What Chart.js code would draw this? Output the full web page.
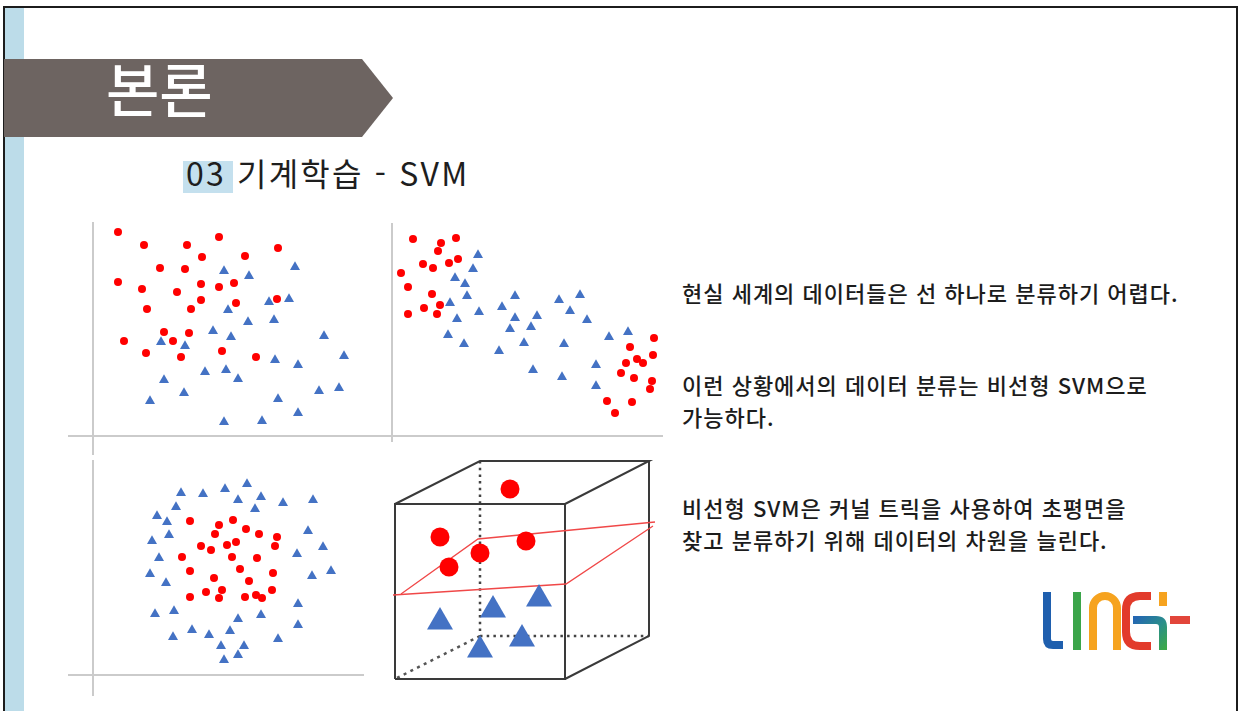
<!DOCTYPE html>
<html lang="ko">
<head>
<meta charset="UTF-8">
<title>본론 - 03 기계학습 SVM</title>
<script src="https://cdn.jsdelivr.net/npm/chart.js"></script>
<style>
  body { margin: 0; width: 1242px; height: 711px; overflow: hidden; background: #fff;
         font-family: "Noto Sans CJK KR", "Noto Sans", sans-serif; position: relative; }
  .abs { position: absolute; }
  .frame { left: 3px; top: 6px; width: 1231px; height: 720px; border: 2px solid #1c1c1c; border-bottom: none; }
  .bar { left: 5px; top: 8px; width: 19px; height: 703px; background: #bcdce9; }
  .title { left: 106px; top: 58px; font-size: 58px; line-height: 1; color: #fff; font-weight: 500; }
  .sub-hl { left: 183px; top: 161px; width: 50px; height: 32px; background: #c4e0ee; }
  .sub { left: 186px; top: 156px; font-size: 32px; line-height: 1; color: #1e1e1e; letter-spacing: 2.2px; }
  .txt { left: 682px; font-size: 22px; line-height: 32px; color: #1c1c1c; letter-spacing: 1px; white-space: nowrap; font-weight: 500; }
  canvas { position: absolute; }
</style>
</head>
<body>
<div class="abs bar"></div>
<div class="abs frame"></div>
<svg class="abs" style="left:0;top:0" width="1242" height="711">
  <defs>
    <linearGradient id="bg" x1="0" y1="0" x2="1" y2="1">
      <stop offset="0" stop-color="#2466b3"/>
      <stop offset="0.55" stop-color="#2a8f8a"/>
      <stop offset="1" stop-color="#3ba84a"/>
    </linearGradient>
  </defs>
  <polygon points="4,59 362,59 393,98 362,137 4,137" fill="#6d6461"/>
  <!-- LINC+ logo -->
  <g fill="none" stroke-width="8" stroke-linejoin="round">
    <path d="M1047,592 V639 Q1047,645 1053,645 H1063" stroke="#1f5fae"/>
    <path d="M1077,592 V650" stroke="#3ba54a"/>
    <path d="M1093,650 V608 A12,12 0 0 1 1117,608 V650" stroke="#f6a31f"/>
    <path d="M1151,596 H1140 Q1126,596 1126,610 V632 Q1126,646 1140,646 H1151" stroke="#e23b2b"/>
    <path d="M1133,620 H1156 Q1163,620 1163,627 V650" stroke="url(#bg)"/>
    <path d="M1163,592 V606" stroke="#f6a31f"/>
    <path d="M1170,620 H1190" stroke="#e2453a"/>
  </g>
</svg>
<div class="abs title">본론</div>
<div class="abs sub-hl"></div>
<div class="abs sub">03 기계학습 - SVM</div>
<div class="abs txt" style="top:276px">현실 세계의 데이터들은 선 하나로 분류하기 어렵다.</div>
<div class="abs txt" style="top:368px">이런 상황에서의 데이터 분류는 비선형 SVM으로<br>가능하다.</div>
<div class="abs txt" style="top:491px">비선형 SVM은 커널 트릭을 사용하여 초평면을<br>찾고 분류하기 위해 데이터의 차원을 늘린다.</div>

<canvas id="p1" width="320" height="240" style="left:60px;top:215px"></canvas>
<canvas id="p2" width="290" height="240" style="left:380px;top:215px"></canvas>
<canvas id="p3" width="320" height="250" style="left:60px;top:450px"></canvas>
<canvas id="p4" width="290" height="250" style="left:380px;top:450px"></canvas>

<script>
// panel 1 - two overlapping classes
const mixRed = [[25,204],[51,191],[94,191],[126,199],[185,188],[109,179],[152,180],[67,168],[92,167],
  [25,154],[49,147],[84,144],[108,152],[126,149],[141,153],[108,136],[143,133],[184,137],[54,127],
  [98,127],[71,104],[96,103],[80,95],[31,95],[53,83],[88,79],[129,85],[163,79]];
const mixBlue = [[131,165],[156,160],[202,169],[176,134],[196,137],[135,126],[155,114],[181,116],
  [120,105],[138,99],[68,94],[92,90],[231,100],[251,80],[182,76],[205,71],[112,64],[133,66],[145,57],
  [71,56],[91,43],[57,35],[185,37],[226,45],[246,48],[205,23],[169,15],[131,14]];

// panel 2 - band with two red clusters
const bandRed = [[21,197],[49,193],[64,198],[46,185],[31,172],[41,168],[57,173],[66,177],[9,163],
  [16,149],[40,142],[48,131],[32,128],[45,122],[16,122],
  [262,98],[238,89],[261,81],[234,73],[245,77],[251,73],[229,63],[242,58],[260,55],[258,47],
  [215,35],[240,34],[223,23]];
const bandBlue = [[86,181],[81,167],[63,158],[73,152],[75,140],[58,133],[87,124],[65,117],[56,101],
  [72,92],[123,140],[110,129],[123,118],[145,120],[118,107],[139,109],[132,93],[107,85],[141,66],
  [167,136],[188,141],[178,125],[195,116],[172,92],[170,59],[217,99],[236,104],[204,71],[204,50]];

// panel 3 - ring around a core
const ringRed = [[97,154],[126,150],[140,155],[122,141],[153,146],[166,141],[184,138],[182,129],
  [143,133],[134,130],[108,129],[118,125],[89,118],[139,118],[164,117],[97,104],[147,106],[180,102],
  [121,97],[156,94],[129,85],[179,85],[113,83],[97,78],[126,77],[152,78],[163,80],[169,77]];
const ringBlue = [[88,182],[110,181],[132,186],[154,191],[145,175],[168,178],[190,172],[220,175],
  [83,168],[162,166],[64,159],[74,153],[76,140],[59,134],[66,117],[57,101],[73,92],[215,144],
  [230,128],[204,121],[219,99],[238,104],[205,71],[205,50],[185,36],[168,60],[145,56],[137,44],
  [62,61],[81,64],[80,38],[99,45],[116,40],[128,29],[151,29],[145,20],[131,15]];

// panel 4 - lifted to 3D, split by a plane
const cubeFront = [[0,0],[0,175],[170,175],[170,0],[0,0]];
const cubeTop = [[0,175],[85,218],[254,218],[170,175]];
const cubeSide = [[254,218],[254,43],[170,0]];
const cubeBackV = [[85,218],[85,43]];
const cubeBackH = [[85,43],[254,43]];
const cubeBackD = [[85,43],[0,0]];
const planeA = [[-2,84],[171,95],[258,153]];
const planeB = [[6,85],[83,140],[260,157]];
const cubeRed = [[115,190],[45,142],[131,138],[85,126],[54,112]];
const cubeBlue = [[45,57],[98,69],[144,80],[127,40],[85,29]];

// axis extents of the 2D panels
const ax1X = [-25, 287], ax1Y = [-19, 214];
const ax2X = [-12, 271], ax2Y = [-6, 213];
const ax3X = [-25, 271], ax3Y = [-21, 215];

const RED = '#ff0000', BLUE = '#4472c4', AXIS = '#cbcbcb', EDGE = '#3a3a3a';
const pts = a => a.map(([x, y]) => ({ x, y }));

function dots(data, color, style, r, order) {
  return { data: pts(data), pointStyle: style, pointRadius: r, pointHoverRadius: r,
    backgroundColor: color, borderWidth: 0, showLine: false, clip: false, order };
}
function line(data, color, width, dash, order) {
  return { data: pts(data), showLine: true, pointRadius: 0, borderColor: color, borderWidth: width,
    borderDash: dash || [], fill: false, tension: 0, clip: false, order };
}
function axes(xr, yr) {
  return [line([[xr[0], 0], [xr[1], 0]], AXIS, 2, null, 9), line([[0, yr[0]], [0, yr[1]]], AXIS, 2, null, 9)];
}
function panel(id, xr, yr, datasets) {
  new Chart(document.getElementById(id), {
    type: 'scatter',
    data: { datasets },
    options: {
      responsive: false, animation: false, events: [],
      layout: { padding: 0, autoPadding: false },
      plugins: { legend: { display: false }, tooltip: { enabled: false } },
      scales: {
        x: { type: 'linear', display: false, min: xr[0], max: xr[1] },
        y: { type: 'linear', display: false, min: yr[0], max: yr[1] }
      }
    }
  });
}

panel('p1', [-33, 287], [-19, 221], [
  ...axes(ax1X, ax1Y),
  dots(mixRed, RED, 'circle', 4, 1), dots(mixBlue, BLUE, 'triangle', 5.8, 2)
]);
panel('p2', [-12, 278], [-19, 221], [
  ...axes(ax2X, ax2Y),
  dots(bandRed, RED, 'circle', 4, 1), dots(bandBlue, BLUE, 'triangle', 5.8, 2)
]);
panel('p3', [-33, 287], [-25, 225], [
  ...axes(ax3X, ax3Y),
  dots(ringRed, RED, 'circle', 4, 1), dots(ringBlue, BLUE, 'triangle', 5.8, 2)
]);
panel('p4', [-15, 275], [-21, 229], [
  line(cubeFront, EDGE, 2, null, 8), line(cubeTop, EDGE, 2, null, 8), line(cubeSide, EDGE, 2, null, 8),
  line(cubeBackV, '#444', 2.5, [2.5, 4.2], 8), line(cubeBackH, '#444', 2.5, [2.5, 4.2], 8),
  line(cubeBackD, '#555', 2.5, [3, 4.5], 8),
  line(planeA, '#f04848', 1.3, null, 5), line(planeB, '#f04848', 1.3, null, 5),
  dots(cubeRed, RED, 'circle', 9.5, 1), dots(cubeBlue, BLUE, 'triangle', 15, 2)
]);
</script>
</body>
</html>
